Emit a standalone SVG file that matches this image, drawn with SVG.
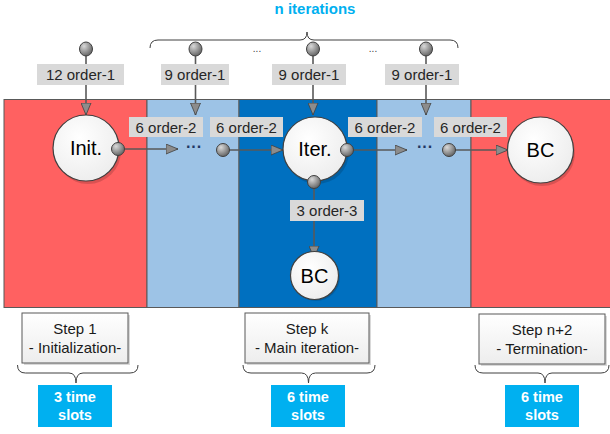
<svg xmlns="http://www.w3.org/2000/svg" width="610" height="434" viewBox="0 0 610 434">
<style>
text{font-family:"Liberation Sans",Arial,sans-serif;}
.lbl{fill:#D9D9D9;}
.lt{font-size:15px;fill:#262626;text-anchor:middle;}
.ct{font-size:20px;fill:#000;text-anchor:middle;}
.st{font-size:15px;fill:#1a1a1a;text-anchor:middle;}
.ts{font-size:14.5px;font-weight:bold;fill:#fff;text-anchor:middle;}
.cy{fill:#00B0F0;}
.line{stroke:#595959;stroke-width:1.6;fill:none;}
.ball{fill:url(#gball);stroke:#404040;stroke-width:1;}
.node{fill:url(#gnode);stroke:#404040;stroke-width:1.2;}
.shadow{fill:#000;opacity:0.15;}
.band{stroke:#595959;stroke-width:1;}
.brace{fill:none;stroke:#404040;stroke-width:1;}
.step{fill:url(#gstep);stroke:#595959;stroke-width:1;}
.dots{font-size:16px;font-weight:bold;fill:#1F3864;text-anchor:middle;}
.sdots{font-size:10px;fill:#404040;text-anchor:middle;}
</style>
<defs>
<radialGradient id="gball" cx="0.35" cy="0.3" r="0.75">
<stop offset="0" stop-color="#D9D9D9"/>
<stop offset="1" stop-color="#606060"/>
</radialGradient>
<radialGradient id="gnode" cx="0.4" cy="0.35" r="0.75">
<stop offset="0" stop-color="#FFFFFF"/>
<stop offset="1" stop-color="#EBEBEB"/>
</radialGradient>
<linearGradient id="gstep" x1="0" y1="0" x2="0" y2="1">
<stop offset="0" stop-color="#FFFFFF"/>
<stop offset="1" stop-color="#EDEDED"/>
</linearGradient>
<marker id="arr" viewBox="0 0 12 11" refX="12" refY="5.5" markerWidth="12" markerHeight="11" markerUnits="userSpaceOnUse" orient="auto">
<path d="M0,0.5 L12,5.5 L0,10.5 Z" fill="#8C8C8C" stroke="#404040" stroke-width="0.8"/>
</marker>
</defs>

<g id="bands">
<rect class="band" x="4" y="99.5" width="143" height="208" fill="#FF6161"/>
<rect class="band" x="147" y="99.5" width="92" height="208" fill="#9DC3E6"/>
<rect class="band" x="239" y="99.5" width="138" height="208" fill="#0070C0"/>
<rect class="band" x="377" y="99.5" width="94" height="208" fill="#9DC3E6"/>
<rect class="band" x="471" y="99.5" width="145" height="208" fill="#FF6161"/>
</g>

<g id="header">
<text x="315" y="14" font-size="15" font-weight="bold" fill="#00B0F0" text-anchor="middle">n iterations</text>
<path class="brace" d="M150,48 Q150,40 158,40 L300,40 Q307,40 307,32 Q307,40 314,40 L450,40 Q458,40 458,48"/>
<text class="sdots" x="257" y="52">...</text>
<text class="sdots" x="373" y="52">...</text>
</g>

<g id="connectors">
<line class="line" x1="86" y1="49" x2="86" y2="115" marker-end="url(#arr)"/>
<line class="line" x1="195.5" y1="49" x2="195.5" y2="115" marker-end="url(#arr)"/>
<line class="line" x1="313" y1="49" x2="313" y2="115" marker-end="url(#arr)"/>
<line class="line" x1="426" y1="49" x2="426" y2="115" marker-end="url(#arr)"/>
<line class="line" x1="118" y1="149" x2="178" y2="149" marker-end="url(#arr)"/>
<line class="line" x1="223" y1="150" x2="283" y2="150" marker-end="url(#arr)"/>
<line class="line" x1="347" y1="150" x2="407" y2="150" marker-end="url(#arr)"/>
<line class="line" x1="449" y1="150" x2="508" y2="150" marker-end="url(#arr)"/>
<line class="line" x1="314" y1="183" x2="314" y2="258" marker-end="url(#arr)"/>
<text class="dots" x="194" y="152">···</text>
<text class="dots" x="425" y="152">···</text>
</g>

<g id="top-balls">
<ellipse class="ball" cx="86" cy="49" rx="6.5" ry="7"/>
<ellipse class="ball" cx="195.5" cy="49" rx="6.5" ry="7"/>
<ellipse class="ball" cx="313" cy="49" rx="6.5" ry="7"/>
<ellipse class="ball" cx="426" cy="49" rx="6.5" ry="7"/>
</g>

<g id="label-top-1"><rect class="lbl" x="37" y="64" width="87" height="21"/><text class="lt" x="80.5" y="80">12 order-1</text></g>
<g id="label-top-2"><rect class="lbl" x="161" y="64" width="68" height="21"/><text class="lt" x="195" y="80">9 order-1</text></g>
<g id="label-top-3"><rect class="lbl" x="272" y="64" width="74" height="21"/><text class="lt" x="309" y="80">9 order-1</text></g>
<g id="label-top-4"><rect class="lbl" x="385" y="64" width="74" height="21"/><text class="lt" x="422" y="80">9 order-1</text></g>

<g id="label-mid-1"><rect class="lbl" x="129" y="117" width="74" height="20"/><text class="lt" x="166" y="132.5">6 order-2</text></g>
<g id="label-mid-2"><rect class="lbl" x="210" y="117" width="73" height="20"/><text class="lt" x="246.5" y="132.5">6 order-2</text></g>
<g id="label-mid-3"><rect class="lbl" x="348" y="117" width="74" height="20"/><text class="lt" x="385" y="132.5">6 order-2</text></g>
<g id="label-mid-4"><rect class="lbl" x="434" y="117" width="73" height="20"/><text class="lt" x="470.5" y="132.5">6 order-2</text></g>
<g id="label-low"><rect class="lbl" x="290" y="200" width="74" height="21"/><text class="lt" x="327" y="216">3 order-3</text></g>

<g id="node-init">
<circle class="shadow" cx="88" cy="151" r="33"/>
<circle class="node" cx="86" cy="148" r="33"/>
<text class="ct" x="86" y="155">Init.</text>
<circle class="ball" cx="118" cy="149" r="6.5"/>
</g>
<g id="node-iter">
<circle class="shadow" cx="317" cy="152" r="32"/>
<circle class="node" cx="315" cy="149" r="32"/>
<text class="ct" x="315" y="156">Iter.</text>
<circle class="ball" cx="347" cy="150" r="6.5"/>
<circle class="ball" cx="314" cy="182" r="6.5"/>
</g>
<g id="node-pre"><circle class="ball" cx="223" cy="150" r="6.5"/></g>
<g id="node-post"><circle class="ball" cx="449" cy="150" r="6.5"/></g>
<g id="node-bc-right">
<circle class="shadow" cx="542" cy="153" r="33"/>
<circle class="node" cx="540.5" cy="150" r="33"/>
<text class="ct" x="540.5" y="157">BC</text>
</g>
<g id="node-bc-low">
<circle class="shadow" cx="316" cy="277" r="24"/>
<circle class="node" cx="314.5" cy="275.5" r="24"/>
<text class="ct" x="314.5" y="282.5">BC</text>
</g>

<g id="step-1">
<rect x="24" y="315" width="106" height="50" fill="#000" opacity="0.15"/>
<rect class="step" x="22" y="313" width="106" height="50"/>
<text class="st" x="75" y="334">Step 1</text>
<text class="st" x="75" y="352.5">- Initialization-</text>
</g>
<g id="step-k">
<rect x="247" y="315" width="124" height="50" fill="#000" opacity="0.15"/>
<rect class="step" x="245" y="313" width="124" height="50"/>
<text class="st" x="307" y="334">Step k</text>
<text class="st" x="307" y="352.5">- Main iteration-</text>
</g>
<g id="step-n2">
<rect x="481" y="316" width="126" height="50" fill="#000" opacity="0.15"/>
<rect class="step" x="479" y="314" width="126" height="50"/>
<text class="st" x="542" y="335">Step n+2</text>
<text class="st" x="542" y="353.5">- Termination-</text>
</g>

<g id="braces">
<path class="brace" d="M17.5,365 Q17.5,373 25.5,373 L69,373 Q76,373 76,383 Q76,373 83,373 L130,373 Q138,373 138,365"/>
<path class="brace" d="M243,365 Q243,373 251,373 L301.5,373 Q308.5,373 308.5,383 Q308.5,373 315.5,373 L367,373 Q375,373 375,365"/>
<path class="brace" d="M475,365 Q475,373 483,373 L538,373 Q545,373 545,383 Q545,373 552,373 L601,373 Q609,373 609,365"/>
</g>

<g id="slots-1"><rect class="cy" x="38" y="385" width="74" height="42"/><text class="ts" x="75" y="402">3 time</text><text class="ts" x="75" y="420">slots</text></g>
<g id="slots-2"><rect class="cy" x="271" y="385" width="74" height="42"/><text class="ts" x="308" y="402">6 time</text><text class="ts" x="308" y="420">slots</text></g>
<g id="slots-3"><rect class="cy" x="505" y="385" width="74" height="42"/><text class="ts" x="542" y="402">6 time</text><text class="ts" x="542" y="420">slots</text></g>
</svg>
